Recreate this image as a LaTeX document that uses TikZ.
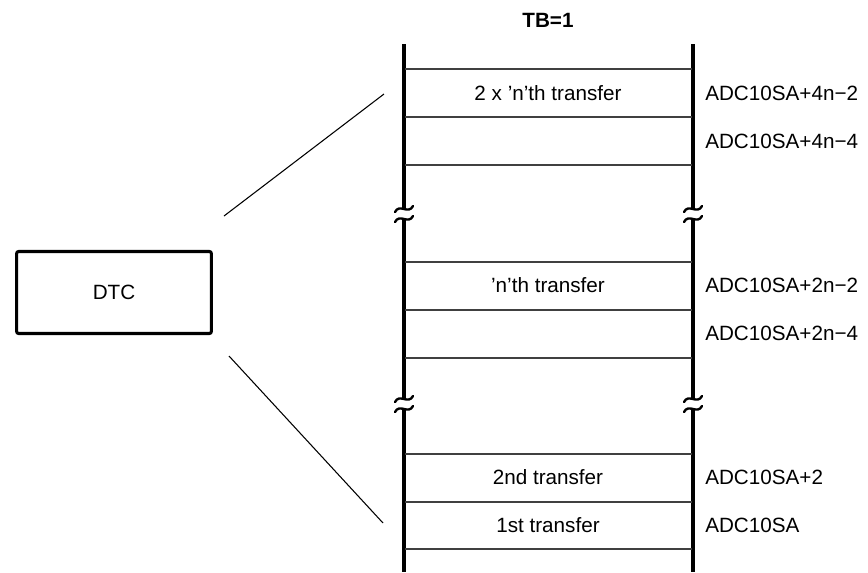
\documentclass[tikz,border=0pt]{standalone}
\usepackage{fontspec}
\setmainfont{Liberation Sans}
\begin{document}
\begin{tikzpicture}[x=0.75pt,y=-0.75pt,
  lbl/.style={inner sep=0pt,font=\fontsize{15.5}{18}\selectfont},
  addr/.style={lbl,anchor=west},
  bar/.style={line width=2.4pt,line cap=butt},
  sep/.style={line width=1pt,draw=black!75},
  fan/.style={line width=0.8pt},
  boxst/.style={draw,line width=2.3pt,rounded corners=1.5pt,minimum width=146pt,minimum height=61.5pt,inner sep=0pt,font=\fontsize{15.5}{18}\selectfont},
  brk/.pic={\draw[line width=1.8pt,line cap=round] (-9,3) .. controls (-4.5,-6) and (4.5,6) .. (9,-3);}
]
\useasboundingbox (0,0) rectangle (868,572);
% title
\node[lbl,font=\fontsize{15.5}{18}\selectfont\bfseries] (tb) at (548,20) {TB=1};
% bars
\foreach \x in {404,693}{
  \draw[bar] (\x,44) -- (\x,210);
  \draw[bar] (\x,219) -- (\x,400);
  \draw[bar] (\x,409) -- (\x,572);
  \pic at (\x,209) {brk};
  \pic at (\x,219) {brk};
  \pic at (\x,399) {brk};
  \pic at (\x,409) {brk};
}
% separators
\foreach \y in {69,117,165,262,310,358,454,502,549}{
  \draw[sep] (405,\y) -- (692,\y);
}
% row texts
\node[lbl] (r1) at (548,93) {2 x ’n’th transfer};
\node[lbl] (r2) at (548,285) {’n’th transfer};
\node[lbl] (r3) at (548,477) {2nd transfer};
\node[lbl] (r4) at (548,525) {1st transfer};
% addresses
\node[addr] (a1) at (705,93) {ADC10SA+4n−2};
\node[addr] (a2) at (705,141) {ADC10SA+4n−4};
\node[addr] (a3) at (705,285) {ADC10SA+2n−2};
\node[addr] (a4) at (705,333) {ADC10SA+2n−4};
\node[addr] (a5) at (705,477) {ADC10SA+2};
\node[addr] (a6) at (705,525) {ADC10SA};
% DTC box
\node[boxst] (dtc) at (114,292.5) {DTC};
% fan lines
\coordinate (f1s) at (224,216);
\coordinate (f1e) at (384,94);
\coordinate (f2s) at (229,356);
\coordinate (f2e) at (383,523);
\draw[fan] (f1s) -- (f1e);
\draw[fan] (f2s) -- (f2e);
\end{tikzpicture}
\end{document}
